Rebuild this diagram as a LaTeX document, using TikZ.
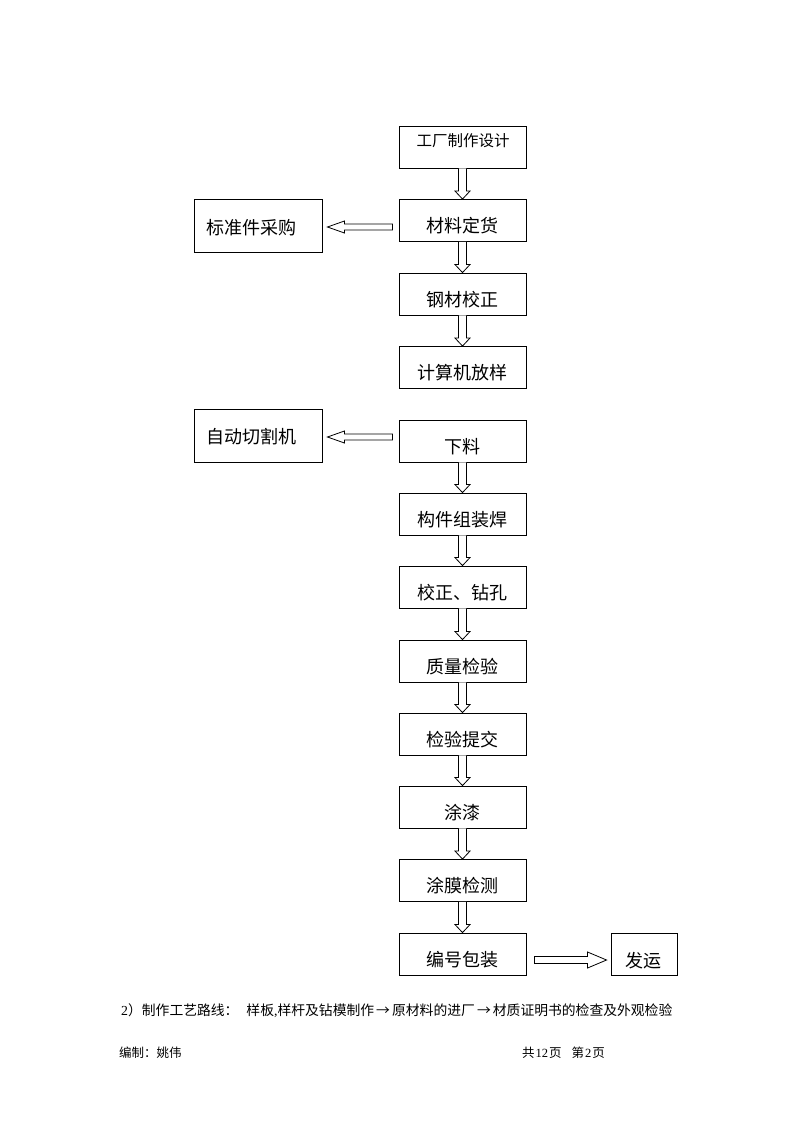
\documentclass[tikz,border=0pt]{standalone}
\usepackage{fontspec}
\setmainfont{Noto Sans CJK SC}
\newfontfamily\lat{Liberation Serif}
\usetikzlibrary{calc}
\tikzset{
  mbox/.style={draw, line width=0.9pt, minimum width=127pt, minimum height=42pt, inner sep=0pt},
  sbox/.style={draw, line width=0.9pt, minimum width=128pt, minimum height=53pt, inner sep=0pt},
  lbl/.style={font=\fontsize{18}{20}\selectfont, inner sep=0pt},
  harrow/.style={draw, line width=0.8pt, fill=white, line join=miter},
  foot/.style={font=\fontsize{13.8}{15}\selectfont, inner sep=0pt, anchor=west},
}
\newcommand\hdown[2]{\draw[harrow] ($(#1.south)+(-4,0)$) -- ($(#2.north)+(-4,-8)$) -- ($(#2.north)+(-7.5,-8)$) -- (#2.north) -- ($(#2.north)+(7.5,-8)$) -- ($(#2.north)+(4,-8)$) -- ($(#1.south)+(4,0)$);}
\newcommand\hleft[2]{\draw[harrow] ($(#1)+(0,-3)$) -- ($(#2)+(17,-3)$) -- ($(#2)+(17,-6)$) -- (#2) -- ($(#2)+(17,6)$) -- ($(#2)+(17,3)$) -- ($(#1)+(0,3)$) -- cycle;}
\newcommand\hright[2]{\draw[harrow] ($(#1)+(0,-3.5)$) -- ($(#2)+(-19,-3.5)$) -- ($(#2)+(-19,-8)$) -- (#2) -- ($(#2)+(-19,8)$) -- ($(#2)+(-19,3.5)$) -- ($(#1)+(0,3.5)$) -- cycle;}
\newcommand\ar{\makebox[18pt][c]{→}}
\begin{document}
\begin{tikzpicture}[x=1pt,y=-1pt]
\useasboundingbox (0,0) rectangle (800,1132);
% main column boxes
\node[mbox] (b1) at (462.5,147) {};
\node[mbox] (b2) at (462.5,220.5) {};
\node[mbox] (b3) at (462.5,294) {};
\node[mbox] (b4) at (462.5,367.5) {};
\node[mbox] (b5) at (462.5,441) {};
\node[mbox] (b6) at (462.5,514) {};
\node[mbox] (b7) at (462.5,587) {};
\node[mbox] (b8) at (462.5,661) {};
\node[mbox] (b9) at (462.5,734) {};
\node[mbox] (b10) at (462.5,807) {};
\node[mbox] (b11) at (462.5,880.5) {};
\node[mbox] (b12) at (462.5,954) {};
% side boxes
\node[sbox] (s1) at (258,225.5) {};
\node[sbox] (s2) at (258,435.5) {};
\node[draw, line width=0.9pt, minimum width=66pt, minimum height=42pt, inner sep=0pt] (s3) at (644,954) {};
% labels
\node[lbl, font=\fontsize{15.5}{17}\selectfont] (l1) at (463,141) {工厂制作设计};
\node[lbl] (l2) at (462,226) {材料定货};
\node[lbl] (l3) at (462,299.5) {钢材校正};
\node[lbl] (l4) at (462,373) {计算机放样};
\node[lbl] (l5) at (462,447) {下料};
\node[lbl] (l6) at (462,520) {构件组装焊};
\node[lbl] (l7) at (462,593) {校正、钻孔};
\node[lbl] (l8) at (462,667) {质量检验};
\node[lbl] (l9) at (462,740) {检验提交};
\node[lbl] (l10) at (462,813) {涂漆};
\node[lbl] (l11) at (462,886) {涂膜检测};
\node[lbl] (l12) at (462,960) {编号包装};
\node[lbl] (ls1) at (251,228) {标准件采购};
\node[lbl] (ls2) at (251,437) {自动切割机};
\node[lbl] (ls3) at (643,961) {发运};
% down arrows
\hdown{b1}{b2}
\hdown{b2}{b3}
\hdown{b3}{b4}
\hdown{b5}{b6}
\hdown{b6}{b7}
\hdown{b7}{b8}
\hdown{b8}{b9}
\hdown{b9}{b10}
\hdown{b10}{b11}
\hdown{b11}{b12}
% side arrows
\coordinate (a1s) at ($(b2.west |- s1.east)+(-6,1.5)$);
\coordinate (a1t) at ($(s1.east)+(5,1.5)$);
\hleft{a1s}{a1t}
\coordinate (a2s) at ($(b5.west |- s2.east)+(-6,1.5)$);
\coordinate (a2t) at ($(s2.east)+(5,1.5)$);
\hleft{a2s}{a2t}
\coordinate (a3s) at ($(b12.east)+(8,6)$);
\coordinate (a3t) at ($(s3.west)+(-4,6)$);
\hright{a3s}{a3t}
% footer
\node[foot] (f1) at (121,1011) {{\lat 2}）制作工艺路线：\hspace{8pt}样板{\lat ,}样杆及钻模制作\ar 原材料的进厂\ar 材质证明书的检查及外观检验};
\node[foot, font=\fontsize{12.5}{14}\selectfont] (f2) at (119,1053) {编制：姚伟};
\node[foot, font=\fontsize{12.5}{14}\selectfont] (f3) at (522,1053) {共\kern1pt{\lat 12}\kern1pt页\hspace{10pt}第\kern1pt{\lat 2}\kern1pt页};
\end{tikzpicture}
\end{document}
